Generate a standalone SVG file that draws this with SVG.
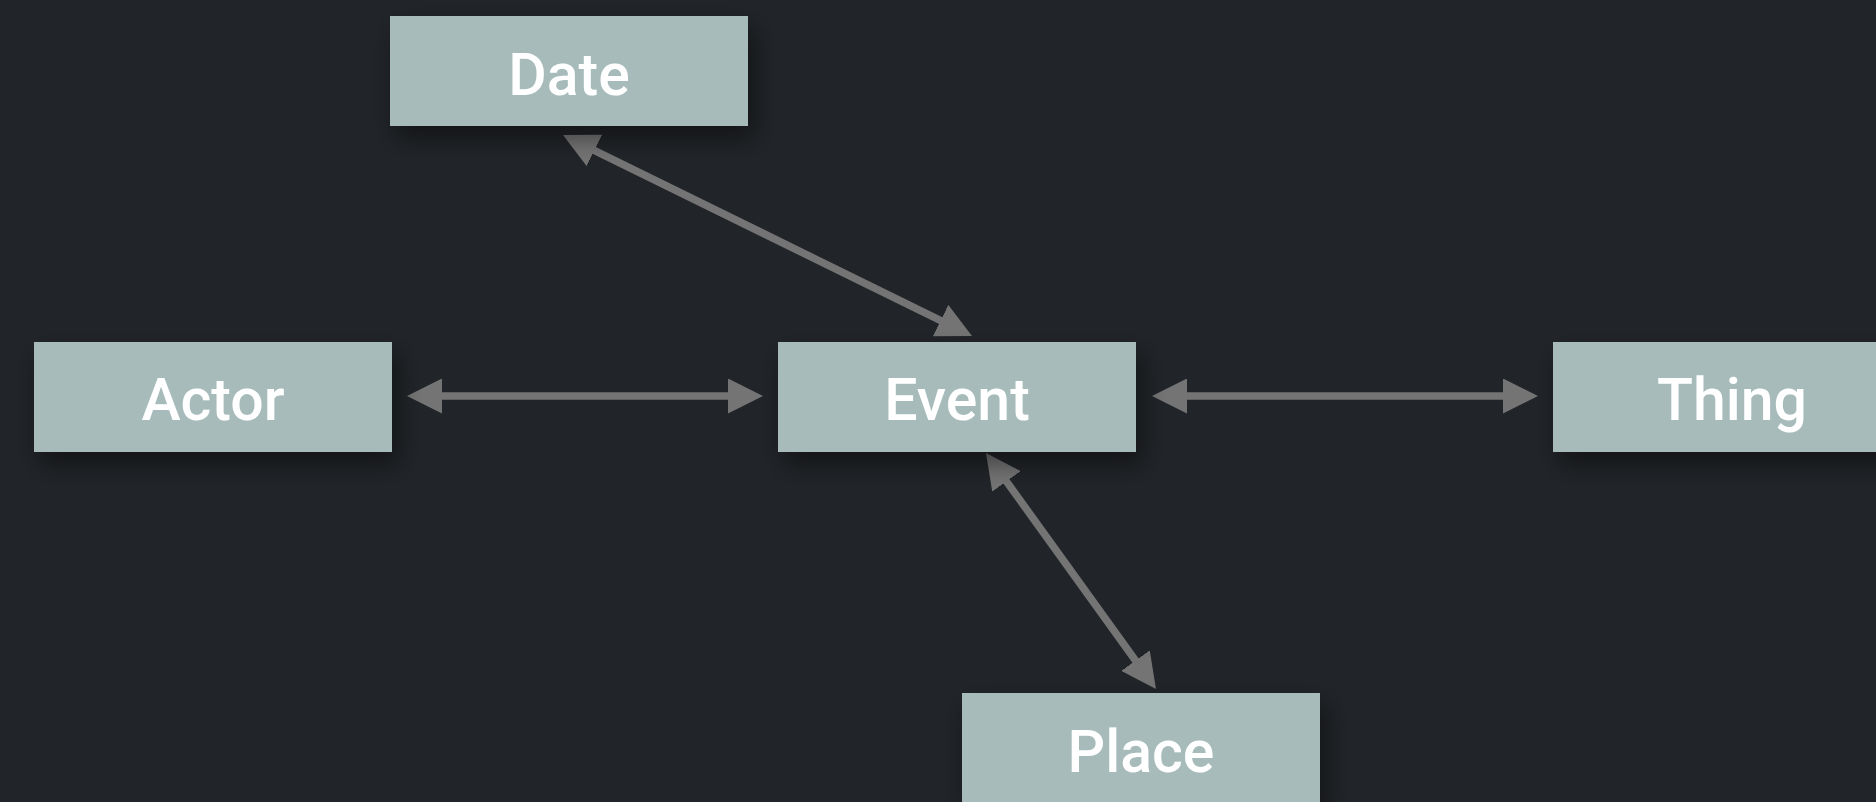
<svg xmlns="http://www.w3.org/2000/svg" width="1876" height="802" viewBox="0 0 1876 802">
  <style>
    .box { fill: #a7bbbb; filter: url(#shadow); }
    .label { font-family: Roboto, "Liberation Sans", sans-serif; font-size: 59px; font-weight: 500; fill: #ffffff; text-anchor: middle; }
    .conn { stroke: #747474; stroke-width: 7.5; fill: none; marker-start: url(#arrow); marker-end: url(#arrow); }
  </style>
  <defs>
    <filter id="shadow" x="-20%" y="-30%" width="140%" height="170%">
      <feDropShadow dx="6" dy="12" stdDeviation="12" flood-color="#000000" flood-opacity="0.45"/>
    </filter>
    <marker id="arrow" viewBox="0 0 35 35" markerWidth="35" markerHeight="35" markerUnits="userSpaceOnUse" refX="15" refY="17.5" orient="auto-start-reverse">
      <path d="M0,0 L35,17.5 L0,35 z" fill="#747474"/>
    </marker>
  </defs>
  <rect width="1876" height="802" fill="#212428"/>
  <g id="connectors">
    <line class="conn" x1="427" y1="396" x2="743" y2="396"/>
    <line class="conn" x1="1172" y1="396" x2="1518" y2="396"/>
    <line class="conn" x1="580.95" y1="143.82" x2="954.05" y2="327.18"/>
    <line class="conn" x1="997.69" y1="469.23" x2="1144.31" y2="672.77"/>
  </g>
  <g id="date">
    <rect class="box" x="390" y="16" width="358" height="110"/>
    <text class="label" x="569" y="95">Date</text>
  </g>
  <g id="actor">
    <rect class="box" x="34" y="342" width="358" height="110"/>
    <text class="label" x="213" y="420">Actor</text>
  </g>
  <g id="event">
    <rect class="box" x="778" y="342" width="358" height="110"/>
    <text class="label" x="957" y="420">Event</text>
  </g>
  <g id="thing">
    <rect class="box" x="1553" y="342" width="358" height="110"/>
    <text class="label" x="1732" y="420">Thing</text>
  </g>
  <g id="place">
    <rect class="box" x="962" y="693" width="358" height="110"/>
    <text class="label" x="1141" y="772">Place</text>
  </g>
</svg>
